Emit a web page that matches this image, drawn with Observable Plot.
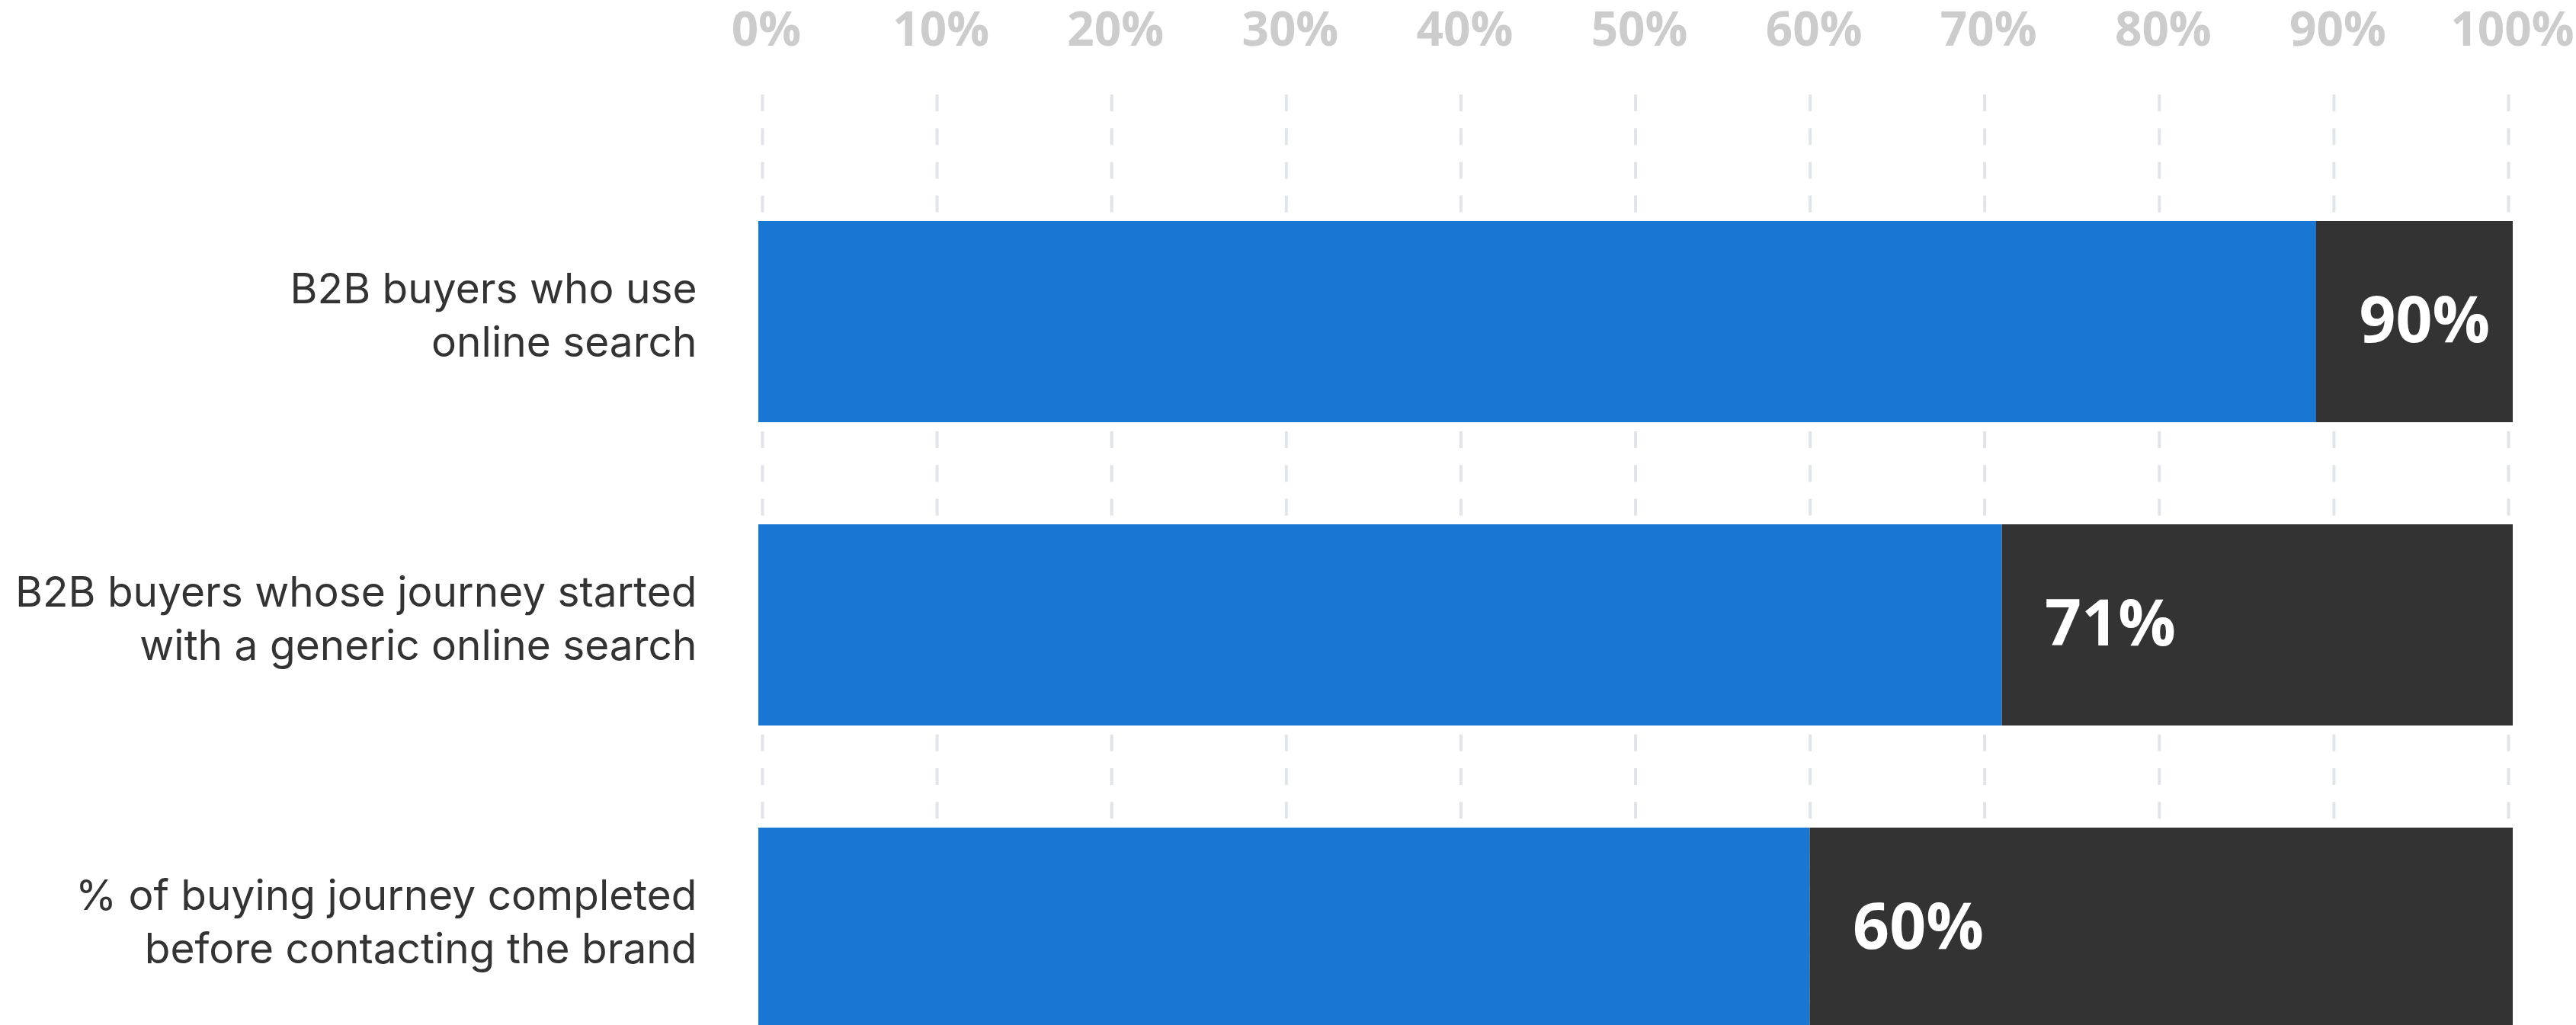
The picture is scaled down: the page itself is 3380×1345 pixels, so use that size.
<!DOCTYPE html>
<html>
<head>
<meta charset="utf-8">
<script src="https://cdn.jsdelivr.net/npm/d3@7"></script>
<script src="https://cdn.jsdelivr.net/npm/@observablehq/plot@0.6"></script>
<style>
  html, body { margin: 0; padding: 0; background: #ffffff; overflow: hidden; }
</style>
</head>
<body>
<div id="chart"></div>
<script>
const categories = [
  "B2B buyers who use\nonline search",
  "B2B buyers whose journey started\nwith a generic online search",
  "% of buying journey completed\nbefore contacting the brand"
];
const values = [89, 71, 60];
const valueLabels = ["90%", "71%", "60%"];
const total = 100;
const ticks = [0, 10, 20, 30, 40, 50, 60, 70, 80, 90, 100];
const tickLabels = ["0%", "10%", "20%", "30%", "40%", "50%", "60%", "70%", "80%", "90%", "100%"];

const rows = categories.map((c, i) => ({category: c, value: values[i], label: valueLabels[i]}));

const chart = Plot.plot({
  width: 3380,
  height: 1345,
  marginLeft: 1000,
  marginRight: 89,
  marginTop: 124,
  marginBottom: 0,
  style: {background: "#ffffff", fontFamily: "Inter, sans-serif", overflow: "visible"},
  x: {domain: [0, total], axis: null},
  y: {domain: categories, range: [289, 1350], paddingInner: 0.3375, paddingOuter: 0, axis: null},
  marks: [
    Plot.ruleX(ticks, {x: d => d, stroke: "#e1e4e8", strokeWidth: 4, strokeDasharray: "22,22.2"}),
    Plot.barX(rows, {y: "category", x1: 0, x2: "value", fill: "#1976d2", insetLeft: -5}),
    Plot.barX(rows, {y: "category", x1: "value", x2: total, fill: "#333333", insetRight: -6}),
    Plot.text(rows, {y: "category", x: "value", text: "label", dx: 56, textAnchor: "start",
      fill: "#ffffff", fontSize: 84, fontWeight: 700, fontFamily: "'Open Sans', sans-serif"}),
    Plot.text(rows, {y: "category", frameAnchor: "left", text: "category", textAnchor: "end", dx: -86, dy: -12,
      fill: "#333333", fontSize: 55, lineHeight: 1.28, fontFamily: "Inter, sans-serif"}),
    Plot.text(ticks, {x: d => d, text: (d, i) => tickLabels[i], frameAnchor: "top", dy: -109, dx: 5,
      fill: "#cccccc", fontSize: 62, fontWeight: 700, fontFamily: "'Open Sans', sans-serif"})
  ]
});
document.getElementById("chart").appendChild(chart);
</script>
</body>
</html>
